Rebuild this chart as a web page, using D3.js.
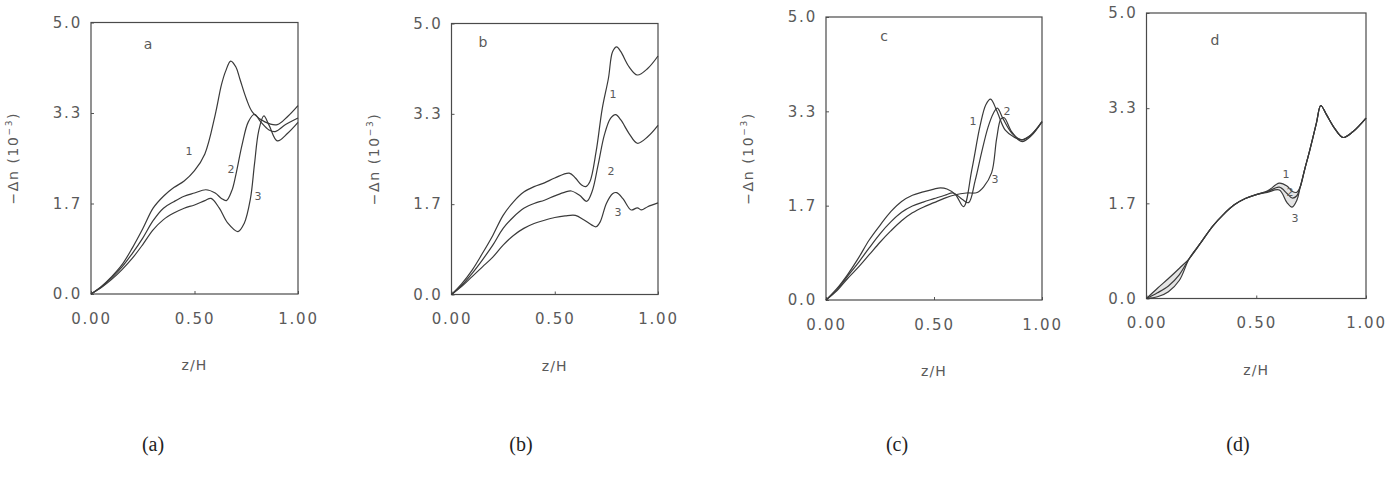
<!DOCTYPE html>
<html>
<head>
<meta charset="utf-8">
<script src="https://cdn.jsdelivr.net/npm/d3@7.9.0/dist/d3.min.js"></script>
<style>
  body { margin: 0; background: #fff; }
  svg text { font-family: "DejaVu Sans", sans-serif; fill: #5a5a5a; }
</style>
</head>
<body>
<div id="chart"></div>
<script>
// tick labels (values are thirds of 5.0 on y)
const yTickValues = [0, 5 / 3, 10 / 3, 5];
const yTickLabels = ["0.0", "1.7", "3.3", "5.0"];
const xTickValues = [0, 0.5, 1];
const xTickLabels = ["0.00", "0.50", "1.00"];
const curveNames = ["1", "2", "3"];
const captions = ["(a)", "(b)", "(c)", "(d)"];

// panel a
const aZ1 = [0, 0.05, 0.1, 0.15, 0.2, 0.25, 0.3, 0.35, 0.4, 0.45, 0.5, 0.55, 0.6, 0.63, 0.65, 0.675, 0.7, 0.72, 0.75, 0.78, 0.84, 0.9, 0.95, 1.0];
const aN1 = [0, 0.14, 0.32, 0.54, 0.85, 1.2, 1.58, 1.8, 1.96, 2.08, 2.27, 2.58, 3.3, 3.85, 4.1, 4.29, 4.18, 3.95, 3.6, 3.35, 3.17, 3.12, 3.27, 3.47];
const aZ2 = [0, 0.05, 0.1, 0.15, 0.2, 0.25, 0.3, 0.35, 0.4, 0.45, 0.5, 0.555, 0.6, 0.63, 0.654, 0.68, 0.7, 0.73, 0.76, 0.79, 0.82, 0.86, 0.89, 0.94, 1.0];
const aN2 = [0, 0.13, 0.3, 0.5, 0.75, 1.03, 1.35, 1.58, 1.7, 1.8, 1.86, 1.92, 1.86, 1.76, 1.72, 1.9, 2.2, 2.75, 3.17, 3.31, 3.17, 3.02, 2.99, 3.12, 3.24];
const aZ3 = [0, 0.05, 0.1, 0.15, 0.2, 0.25, 0.3, 0.35, 0.4, 0.45, 0.5, 0.55, 0.58, 0.62, 0.66, 0.71, 0.74, 0.77, 0.79, 0.81, 0.835, 0.86, 0.9, 0.95, 1.0];
const aN3 = [0, 0.12, 0.27, 0.45, 0.66, 0.91, 1.18, 1.37, 1.49, 1.58, 1.64, 1.72, 1.76, 1.58, 1.31, 1.15, 1.3, 1.75, 2.4, 3.0, 3.28, 3.11, 2.82, 2.96, 3.16];

// panel b
const bZ1 = [0, 0.05, 0.1, 0.15, 0.2, 0.25, 0.3, 0.35, 0.4, 0.45, 0.5, 0.57, 0.6, 0.63, 0.65, 0.67, 0.7, 0.73, 0.76, 0.78, 0.8, 0.82, 0.86, 0.9, 0.95, 1.0];
const bN1 = [0, 0.2, 0.45, 0.76, 1.09, 1.46, 1.71, 1.89, 1.99, 2.06, 2.15, 2.24, 2.15, 2.02, 1.99, 2.08, 2.63, 3.43, 3.99, 4.48, 4.57, 4.48, 4.2, 4.05, 4.17, 4.4];
const bZ2 = [0, 0.05, 0.1, 0.15, 0.2, 0.25, 0.3, 0.35, 0.4, 0.45, 0.5, 0.55, 0.58, 0.62, 0.655, 0.68, 0.71, 0.74, 0.77, 0.795, 0.82, 0.86, 0.9, 0.95, 1.0];
const bN2 = [0, 0.17, 0.39, 0.64, 0.91, 1.22, 1.43, 1.59, 1.68, 1.74, 1.82, 1.89, 1.91, 1.83, 1.72, 1.89, 2.39, 2.94, 3.25, 3.32, 3.22, 2.97, 2.79, 2.91, 3.12];
const bZ3 = [0, 0.05, 0.1, 0.15, 0.2, 0.25, 0.3, 0.35, 0.4, 0.45, 0.5, 0.55, 0.6, 0.64, 0.68, 0.7, 0.72, 0.75, 0.78, 0.8, 0.83, 0.87, 0.9, 0.92, 0.95, 1.0];
const bN3 = [0, 0.15, 0.33, 0.51, 0.69, 0.91, 1.09, 1.22, 1.31, 1.37, 1.42, 1.45, 1.46, 1.38, 1.28, 1.25, 1.34, 1.68, 1.86, 1.88, 1.77, 1.56, 1.6, 1.56, 1.62, 1.69];

// panel c
const cZ1 = [0, 0.05, 0.1, 0.15, 0.2, 0.25, 0.3, 0.35, 0.4, 0.45, 0.5, 0.53, 0.56, 0.6, 0.637, 0.675, 0.713, 0.74, 0.762, 0.79, 0.83, 0.87, 0.906, 0.95, 1.0];
const cN1 = [0, 0.2, 0.45, 0.74, 1.06, 1.32, 1.56, 1.74, 1.85, 1.91, 1.96, 1.98, 1.96, 1.86, 1.65, 2.3, 3.07, 3.45, 3.55, 3.35, 3.0, 2.88, 2.83, 2.92, 3.15];
const cZ2 = [0, 0.05, 0.1, 0.15, 0.2, 0.25, 0.3, 0.35, 0.4, 0.45, 0.5, 0.55, 0.59, 0.63, 0.66, 0.69, 0.72, 0.75, 0.775, 0.793, 0.82, 0.86, 0.906, 0.95, 1.0];
const cN2 = [0, 0.18, 0.42, 0.66, 0.92, 1.17, 1.38, 1.55, 1.66, 1.73, 1.79, 1.85, 1.89, 1.78, 1.72, 2.1, 2.6, 3.05, 3.3, 3.39, 3.2, 2.95, 2.83, 2.92, 3.15];
const cZ3 = [0, 0.05, 0.1, 0.15, 0.2, 0.25, 0.3, 0.35, 0.4, 0.45, 0.5, 0.55, 0.6, 0.65, 0.7, 0.73, 0.767, 0.79, 0.81, 0.825, 0.86, 0.906, 0.95, 1.0];
const cN3 = [0, 0.16, 0.38, 0.58, 0.8, 1.02, 1.22, 1.4, 1.54, 1.64, 1.72, 1.8, 1.86, 1.89, 1.9, 2.0, 2.25, 2.85, 3.2, 3.22, 2.97, 2.8, 2.9, 3.15];

// panel d (shared z grid, band between 1 and 3 is shaded)
const dZ = [0, 0.05, 0.1, 0.15, 0.195, 0.25, 0.3, 0.35, 0.4, 0.45, 0.5, 0.55, 0.605, 0.64, 0.663, 0.685, 0.70, 0.72, 0.744, 0.774, 0.794, 0.82, 0.857, 0.895, 0.94, 1.0];
const dN1 = [0, 0.18, 0.35, 0.53, 0.7, 0.99, 1.26, 1.47, 1.64, 1.75, 1.82, 1.88, 2.02, 1.97, 1.88, 1.86, 1.95, 2.25, 2.6, 3.07, 3.38, 3.22, 2.98, 2.82, 2.92, 3.16];
const dN2 = [0, 0.1, 0.22, 0.42, 0.7, 0.99, 1.26, 1.47, 1.64, 1.75, 1.82, 1.87, 1.95, 1.84, 1.76, 1.8, 1.95, 2.25, 2.6, 3.07, 3.38, 3.22, 2.98, 2.82, 2.92, 3.16];
const dN3 = [0, 0.03, 0.12, 0.32, 0.7, 0.99, 1.26, 1.47, 1.64, 1.75, 1.82, 1.86, 1.9, 1.68, 1.6, 1.72, 1.95, 2.25, 2.6, 3.07, 3.38, 3.22, 2.98, 2.82, 2.92, 3.16];

const zip = (zs, ns) => zs.map((z, i) => ({z: z, n: ns[i]}));

// panel boxes and label spots (pixels)
const panels = [
    {letter: "a", x0: 91, x1: 298, y0: 22.5, y1: 294, yLabel: true, letterAt: [148, 45],
     series: [zip(aZ1, aN1), zip(aZ2, aN2), zip(aZ3, aN3)],
     labelAt: [[189, 152], [231, 170], [258, 197]], captionX: 153},
    {letter: "b", x0: 451.5, x1: 658, y0: 23.5, y1: 294.5, yLabel: true, letterAt: [483, 43],
     series: [zip(bZ1, bN1), zip(bZ2, bN2), zip(bZ3, bN3)],
     labelAt: [[613, 95], [611, 172], [618, 213]], captionX: 521},
    {letter: "c", x0: 826, x1: 1042, y0: 17, y1: 300, yLabel: true, letterAt: [884, 37],
     series: [zip(cZ1, cN1), zip(cZ2, cN2), zip(cZ3, cN3)],
     labelAt: [[973, 122], [1007, 112], [995, 180]], captionX: 897},
    {letter: "d", x0: 1146.5, x1: 1366, y0: 13, y1: 298.5, yLabel: false, letterAt: [1215, 41],
     series: [zip(dZ, dN1), zip(dZ, dN2), zip(dZ, dN3)], band: true,
     labelAt: [[1286, 175], [1290, 193], [1295, 219]], captionX: 1238}
];

const svg = d3.select("#chart").append("svg")
    .attr("width", 1392)
    .attr("height", 477);

panels.forEach((p, pi) => {
    const x = d3.scaleLinear().domain([0, 1]).range([p.x0, p.x1]);
    const y = d3.scaleLinear().domain([0, 5]).range([p.y1, p.y0]);
    const g = svg.append("g");

    // shaded band (panel d)
    if (p.band) {
        const lo = p.series[2];
        const area = d3.area()
            .x(d => x(d.z))
            .y0((d, i) => y(lo[i].n))
            .y1(d => y(d.n))
            .curve(d3.curveCatmullRom.alpha(0.5));
        g.append("path")
            .datum(p.series[0])
            .attr("d", area)
            .attr("fill", "#e4e4e4");
    }

    // axes, ticks pointing inward
    const yAxis = g.append("g")
        .attr("transform", `translate(${p.x0},0)`)
        .call(d3.axisLeft(y).tickValues(yTickValues)
            .tickFormat((d, i) => yTickLabels[i])
            .tickSizeInner(-3).tickSizeOuter(0).tickPadding(9));
    const xAxis = g.append("g")
        .attr("transform", `translate(0,${p.y1})`)
        .call(d3.axisBottom(x).tickValues(xTickValues)
            .tickFormat((d, i) => xTickLabels[i])
            .tickSizeInner(-3).tickSizeOuter(0).tickPadding(19));
    [yAxis, xAxis].forEach(a => {
        a.select(".domain").remove();
        a.selectAll(".tick line").attr("stroke", "#555");
        a.selectAll("text")
            .attr("font-size", 15)
            .attr("letter-spacing", 1.8)
            .attr("fill", "#5a5a5a");
    });

    // frame
    g.append("rect")
        .attr("x", p.x0).attr("y", p.y0)
        .attr("width", p.x1 - p.x0).attr("height", p.y1 - p.y0)
        .attr("fill", "none")
        .attr("stroke", "#4a4a4a")
        .attr("stroke-width", 1.2);

    // curves
    const line = d3.line()
        .x(d => x(d.z))
        .y(d => y(d.n))
        .curve(d3.curveCatmullRom.alpha(0.5));
    g.selectAll(".curve")
        .data(p.series)
        .enter().append("path")
        .attr("class", "curve")
        .attr("d", line)
        .attr("fill", "none")
        .attr("stroke", "#3a3a3a")
        .attr("stroke-width", 1.2);

    // curve numbers
    g.selectAll(".cname")
        .data(curveNames)
        .enter().append("text")
        .attr("class", "cname")
        .attr("x", (d, i) => p.labelAt[i][0])
        .attr("y", (d, i) => p.labelAt[i][1])
        .attr("text-anchor", "middle")
        .attr("dominant-baseline", "middle")
        .attr("font-size", 11)
        .text(d => d);

    // panel letter
    g.append("text")
        .attr("x", p.letterAt[0])
        .attr("y", p.letterAt[1])
        .attr("text-anchor", "middle")
        .attr("dominant-baseline", "middle")
        .attr("font-size", 14)
        .text(p.letter);

    // x axis title
    g.append("text")
        .attr("x", (p.x0 + p.x1) / 2)
        .attr("y", p.y1 + 72)
        .attr("text-anchor", "middle")
        .attr("dominant-baseline", "middle")
        .attr("font-size", 14)
        .attr("letter-spacing", 1.2)
        .text("z/H");

    // y axis title
    if (p.yLabel) {
        const t = g.append("text")
            .attr("transform", `translate(${p.x0 - 77},${(p.y0 + p.y1) / 2}) rotate(-90)`)
            .attr("text-anchor", "middle")
            .attr("dominant-baseline", "middle")
            .attr("font-size", 14)
            .attr("letter-spacing", 1.6);
        t.append("tspan").text("\u2212\u0394n  (10");
        t.append("tspan").attr("font-size", 9).attr("dy", -5).text("\u22123");
        t.append("tspan").attr("dy", 5).text(")");
    }

    // caption under panel
    svg.append("text")
        .attr("x", p.captionX)
        .attr("y", 446)
        .attr("text-anchor", "middle")
        .attr("dominant-baseline", "middle")
        .style("font-family", "'Liberation Serif', 'DejaVu Serif', serif")
        .style("fill", "#222")
        .attr("font-size", 20)
        .text(captions[pi]);
});
</script>
</body>
</html>
